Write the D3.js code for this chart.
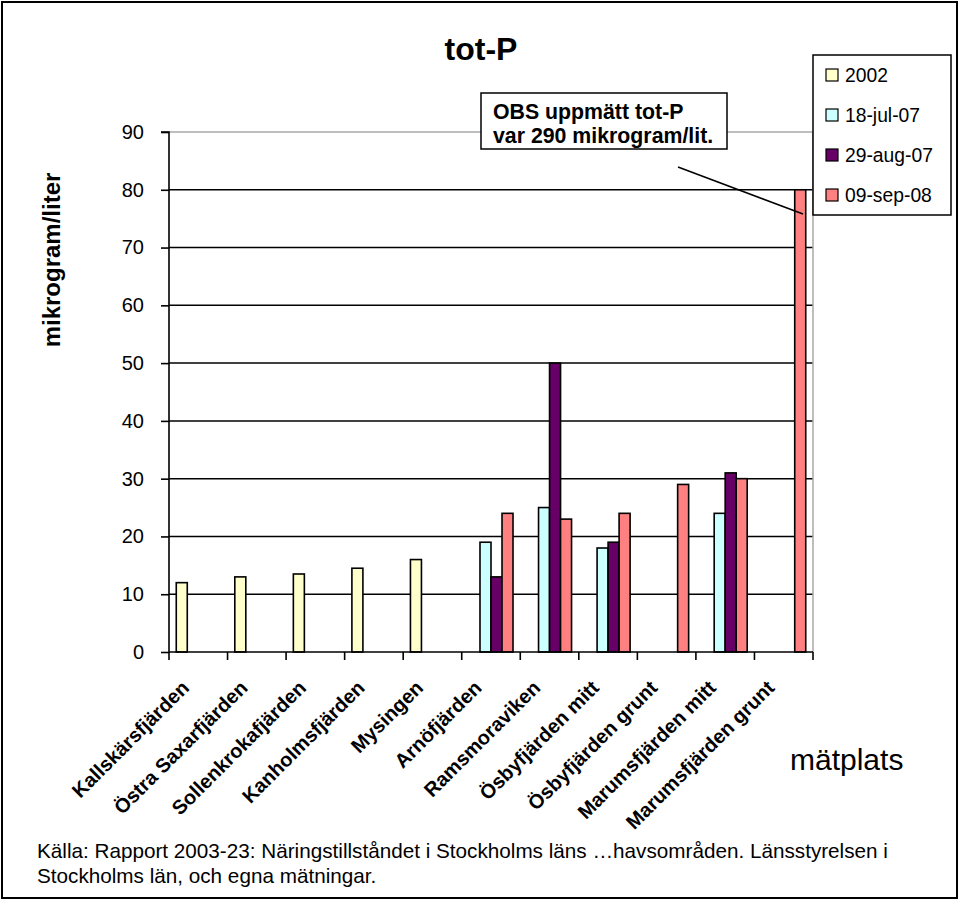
<!DOCTYPE html>
<html>
<head>
<meta charset="utf-8">
<script src="https://cdn.jsdelivr.net/npm/d3@7"></script>
<style>
html,body{margin:0;padding:0;background:#fff;}
svg{display:block;font-family:"Liberation Sans",Arial,sans-serif;}
</style>
</head>
<body>
<svg id="chart" width="960" height="903"></svg>
<script>
const categories = ["Kallskärsfjärden","Östra Saxarfjärden","Sollenkrokafjärden","Kanholmsfjärden","Mysingen","Arnöfjärden","Ramsmoraviken","Ösbyfjärden mitt","Ösbyfjärden grunt","Marumsfjärden mitt","Marumsfjärden grunt"];
const seriesNames = ["2002","18-jul-07","29-aug-07","09-sep-08"];
const s2002  = [12, 13, 13.5, 14.5, 16, null, null, null, null, null, null];
const sJul07 = [null, null, null, null, null, 19, 25, 18, null, 24, null];
const sAug07 = [null, null, null, null, null, 13, 50, 19, null, 31, null];
const sSep08 = [null, null, null, null, null, 24, 23, 24, 29, 30, 80];
const seriesValues = [s2002, sJul07, sAug07, sSep08];
const seriesColors = ["#FFFFCC","#CCFFFF","#660066","#FF8080"];
const yTicks = [0,10,20,30,40,50,60,70,80,90];

const svg = d3.select("#chart");
const L = 169, R = 813, T = 132, B = 652;

// outer border
svg.append("rect").attr("x",2).attr("y",2).attr("width",955).attr("height",896)
  .attr("fill","#fff").attr("stroke","#000").attr("stroke-width",2);

const x = d3.scaleBand().domain(categories).range([L,R]).padding(0);
const xs = d3.scaleBand().domain(seriesNames).range([0,x.bandwidth()]).paddingInner(0).paddingOuter(0.66);
const y = d3.scaleLinear().domain([0,90]).range([B,T]);

// gridlines
const g = svg.append("g");
g.selectAll("line.grid").data(yTicks.filter(v=>v>0 && v<90)).enter().append("line")
  .attr("x1",L).attr("x2",R).attr("y1",d=>y(d)).attr("y2",d=>y(d))
  .attr("stroke","#000").attr("stroke-width",1.5);
// plot top & right border (gray)
g.append("line").attr("x1",L).attr("x2",R).attr("y1",y(90)).attr("y2",y(90)).attr("stroke","#a8a8a8").attr("stroke-width",1.5);
g.append("line").attr("x1",R).attr("x2",R).attr("y1",y(90)).attr("y2",B).attr("stroke","#a8a8a8").attr("stroke-width",1.5);

// bars
seriesNames.forEach((s,si)=>{
  const data = categories.map((c,i)=>({c, v: seriesValues[si][i]})).filter(d=>d.v!==null);
  svg.append("g").selectAll("rect").data(data).enter().append("rect")
    .attr("x",d=>x(d.c)+xs(s))
    .attr("width",xs.bandwidth())
    .attr("y",d=>y(d.v))
    .attr("height",d=>B-y(d.v))
    .attr("fill",seriesColors[si])
    .attr("stroke","#000").attr("stroke-width",1.6);
});

// y axis
const yAxis = d3.axisLeft(y).tickValues(yTicks).tickSize(8).tickPadding(17).tickFormat(d3.format("d"));
const ya = svg.append("g").attr("transform",`translate(${L},0)`).call(yAxis);
ya.select(".domain").attr("stroke","#000").attr("stroke-width",1.6).attr("d",`M-8,${T}H0V${B}`);
ya.selectAll(".tick line").attr("stroke","#000").attr("stroke-width",1.6);
ya.selectAll(".tick text").attr("font-size",20).attr("fill","#000").attr("font-family","Liberation Sans, Arial, sans-serif");

// x axis line and boundary ticks
svg.append("line").attr("x1",L).attr("x2",R).attr("y1",B).attr("y2",B).attr("stroke","#000").attr("stroke-width",1.6);
const bounds = categories.map(c=>x(c)).concat([R]);
svg.append("g").selectAll("line").data(bounds).enter().append("line")
  .attr("x1",d=>d).attr("x2",d=>d).attr("y1",B).attr("y2",B+8)
  .attr("stroke","#000").attr("stroke-width",1.6);

// category labels
svg.append("g").selectAll("text").data(categories).enter().append("text")
  .attr("transform",d=>`translate(${x(d)+x.bandwidth()/2-8},${689}) rotate(-45)`)
  .attr("text-anchor","end")
  .attr("font-size",20).attr("font-weight","bold").attr("fill","#000")
  .text(d=>d);

// title
svg.append("text").attr("x",481).attr("y",60).attr("text-anchor","middle")
  .attr("font-size",32).attr("font-weight","bold").text("tot-P");

// y label
svg.append("text").attr("transform","translate(60,260) rotate(-90)").attr("text-anchor","middle")
  .attr("font-size",24).attr("font-weight","bold").text("mikrogram/liter");

// x label
svg.append("text").attr("x",790).attr("y",770).attr("font-size",30).text("mätplats");

// annotation
svg.append("line").attr("x1",678).attr("y1",167).attr("x2",803).attr("y2",214).attr("stroke","#000").attr("stroke-width",1.5);
svg.append("rect").attr("x",481).attr("y",93).attr("width",246).attr("height",56)
  .attr("fill","#fff").attr("stroke","#000").attr("stroke-width",1.5);
svg.append("text").attr("x",493).attr("y",119).attr("font-size",21.3).attr("font-weight","bold").text("OBS uppmätt tot-P");
svg.append("text").attr("x",493).attr("y",143).attr("font-size",21.3).attr("font-weight","bold").text("var 290 mikrogram/lit.");

// legend
const lg = svg.append("g");
lg.append("rect").attr("x",813).attr("y",55).attr("width",138).attr("height",160)
  .attr("fill","#fff").attr("stroke","#000").attr("stroke-width",1.5);
seriesNames.forEach((s,i)=>{
  const cy = 75 + i*40;
  lg.append("rect").attr("x",826).attr("y",cy-6).attr("width",12).attr("height",12)
    .attr("fill",seriesColors[i]).attr("stroke","#000").attr("stroke-width",1.2);
  lg.append("text").attr("x",845).attr("y",cy+7).attr("font-size",19.3).text(s);
});

// source
svg.append("text").attr("x",37).attr("y",858).attr("font-size",20.7).text("Källa: Rapport 2003-23: Näringstillståndet i Stockholms läns …havsområden. Länsstyrelsen i");
svg.append("text").attr("x",37).attr("y",883).attr("font-size",20.7).text("Stockholms län, och egna mätningar.");
</script>
</body>
</html>
